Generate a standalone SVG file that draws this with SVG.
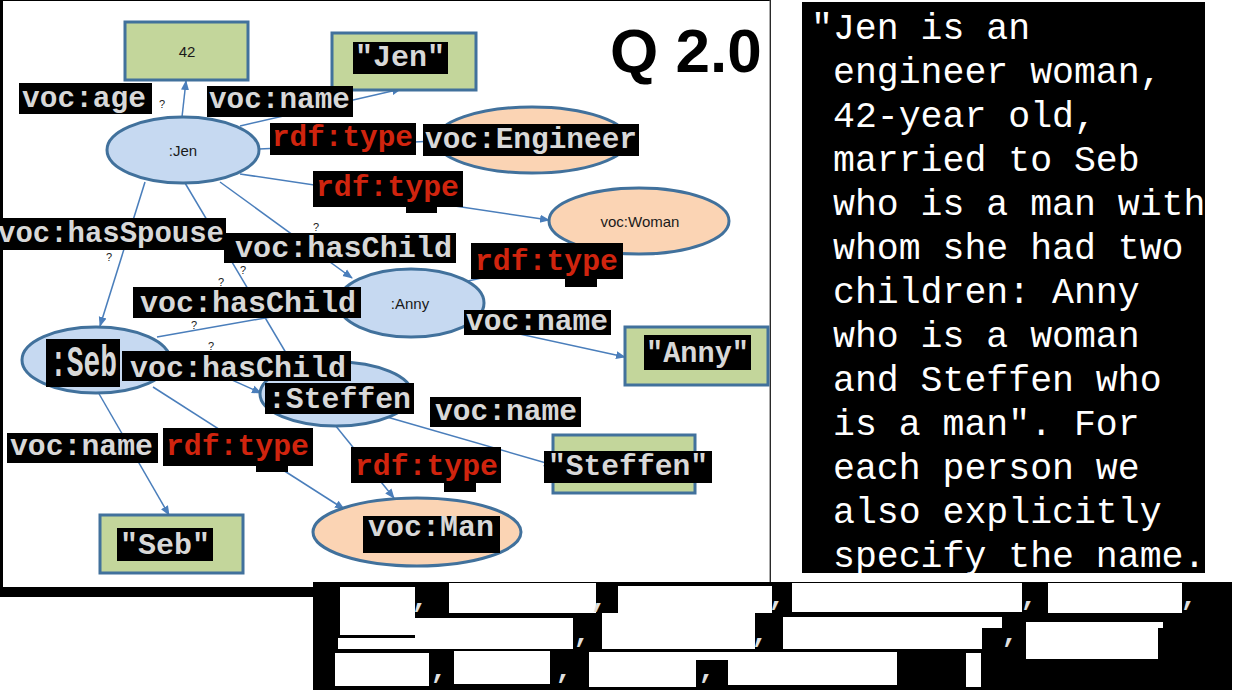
<svg xmlns="http://www.w3.org/2000/svg" width="1238" height="690" viewBox="0 0 1238 690">
<style>
.edge{stroke:#4a7ebb;stroke-width:1.5;fill:none}
.blue{fill:#c6d9f1;stroke:#41719c;stroke-width:3}
.peach{fill:#fbd4b4;stroke:#41719c;stroke-width:3}
.box{fill:#c3d69b;stroke:#41719c;stroke-width:3}
.small{font-family:"Liberation Sans",Arial,sans-serif;font-size:15px;fill:#1a1a1a}
.lbl{fill:#000}
.code{font-family:"Liberation Mono","Courier New",monospace;font-weight:bold;font-size:30px;fill:#d8d8d8}
.red{font-family:"Liberation Mono","Courier New",monospace;font-weight:bold;font-size:30px;fill:#d0240e}
.q{font-family:"Liberation Sans",Arial,sans-serif;font-size:11px;fill:#222}
.para{font-family:"Liberation Mono","Courier New",monospace;font-size:36.5px;fill:#ffffff}
.comma{font-family:"Liberation Mono","Courier New",monospace;font-weight:bold;font-size:28px;fill:#e0e0e0}
</style>
<defs>
<marker id="arr" viewBox="0 0 10 10" refX="9" refY="5" markerWidth="10" markerHeight="10" markerUnits="userSpaceOnUse" orient="auto">
<path d="M0,1 L10,5 L0,9 z" fill="#4a7ebb"/>
</marker>
</defs>
<rect x="0" y="0" width="1238" height="690" fill="#ffffff"/>
<g id="frame">
<rect x="0" y="0" width="771" height="597" fill="#000"/>
<rect x="3" y="1" width="767" height="586" fill="#fff"/>
<line x1="770" y1="0" x2="770" y2="587" stroke="#555" stroke-width="1"/>
</g>
<text x="610" y="72" font-family="'Liberation Sans',Arial,sans-serif" font-weight="bold" font-size="62" fill="#000">Q 2.0</text>
<g id="marks">
<text class="q" x="159" y="108">?</text>
<text class="q" x="313" y="231">?</text>
<text class="q" x="240" y="274">?</text>
<text class="q" x="218" y="286">?</text>
<text class="q" x="191" y="329">?</text>
<text class="q" x="208" y="350">?</text>
<text class="q" x="106" y="261">?</text>
</g>
<g id="connectors">
<line class="edge" x1="182" y1="117" x2="186" y2="81" marker-end="url(#arr)"/>
<line class="edge" x1="240" y1="126" x2="401" y2="89" marker-end="url(#arr)"/>
<line class="edge" x1="259" y1="149" x2="436" y2="141" marker-end="url(#arr)"/>
<line class="edge" x1="240" y1="174" x2="549" y2="220" marker-end="url(#arr)"/>
<line class="edge" x1="220" y1="182" x2="352" y2="278" marker-end="url(#arr)"/>
<line class="edge" x1="145" y1="182" x2="100" y2="326" marker-end="url(#arr)"/>
<line class="edge" x1="185" y1="183" x2="292" y2="363" marker-end="url(#arr)"/>
<line class="edge" x1="157" y1="337" x2="339" y2="305" marker-end="url(#arr)"/>
<line class="edge" x1="165" y1="350" x2="261" y2="393" marker-end="url(#arr)"/>
<line class="edge" x1="98" y1="392" x2="169" y2="515" marker-end="url(#arr)"/>
<line class="edge" x1="153" y1="387" x2="344" y2="509" marker-end="url(#arr)"/>
<line class="edge" x1="455" y1="320" x2="625" y2="357" marker-end="url(#arr)"/>
<line class="edge" x1="468" y1="281" x2="600" y2="252" marker-end="url(#arr)"/>
<line class="edge" x1="380" y1="415" x2="553" y2="465" marker-end="url(#arr)"/>
<line class="edge" x1="335" y1="425" x2="394" y2="498" marker-end="url(#arr)"/>
</g>
<g id="n-42">
<rect class="box" x="125" y="22" width="123" height="58"/>
<text class="small" x="187" y="57" text-anchor="middle">42</text>
</g>
<g id="n-jen-literal">
<rect class="box" x="332" y="33" width="144" height="57"/>
<rect class="lbl" x="353" y="42" width="95" height="32"/>
<text class="code" x="355" y="66" textLength="90" lengthAdjust="spacingAndGlyphs">"Jen"</text>
</g>
<g id="n-jen">
<ellipse class="blue" cx="183" cy="150" rx="76" ry="33"/>
<text class="small" x="183" y="156" text-anchor="middle">:Jen</text>
</g>
<g id="n-engineer">
<ellipse class="peach" cx="532" cy="140" rx="96" ry="33"/>
<rect class="lbl" x="423" y="124" width="216" height="32"/>
<text class="code" x="425" y="148" textLength="212" lengthAdjust="spacingAndGlyphs">voc:Engineer</text>
</g>
<g id="n-woman">
<ellipse class="peach" cx="639" cy="221" rx="90" ry="33"/>
<text class="small" x="640" y="227" text-anchor="middle">voc:Woman</text>
</g>
<g id="n-anny">
<ellipse class="blue" cx="411" cy="303" rx="73" ry="34"/>
<text class="small" x="410" y="309" text-anchor="middle">:Anny</text>
</g>
<g id="n-anny-literal">
<rect class="box" x="625" y="327" width="143" height="58"/>
<rect class="lbl" x="644" y="335" width="107" height="35"/>
<text class="code" x="646" y="362" textLength="103" lengthAdjust="spacingAndGlyphs">"Anny"</text>
</g>
<g id="n-seb">
<ellipse class="blue" cx="96" cy="360" rx="74" ry="33"/>
<rect class="lbl" x="46" y="339" width="74" height="48"/>
<text transform="translate(50,376) scale(0.635,1)" x="0" y="0" font-family="'Liberation Mono','Courier New',monospace" font-weight="bold" font-size="44" fill="#d8d8d8">:Seb</text>
</g>
<g id="n-steffen">
<ellipse class="blue" cx="336" cy="394" rx="76" ry="32"/>
<rect class="lbl" x="265" y="383" width="149" height="31"/>
<text class="code" x="268" y="408" textLength="143" lengthAdjust="spacingAndGlyphs">:Steffen</text>
</g>
<g id="n-steffen-literal">
<rect class="box" x="553" y="435" width="142" height="58"/>
<rect class="lbl" x="544" y="451" width="168" height="32"/>
<text class="code" x="548" y="475" textLength="160" lengthAdjust="spacingAndGlyphs">"Steffen"</text>
</g>
<g id="n-seb-literal">
<rect class="box" x="100" y="515" width="143" height="58"/>
<rect class="lbl" x="117" y="528" width="96" height="33"/>
<text class="code" x="120" y="554" textLength="90" lengthAdjust="spacingAndGlyphs">"Seb"</text>
</g>
<g id="n-man">
<ellipse class="peach" cx="417" cy="532" rx="104" ry="34"/>
<rect class="lbl" x="363" y="516" width="137" height="37"/>
<text class="code" x="368" y="536" textLength="126" lengthAdjust="spacingAndGlyphs">voc:Man</text>
</g>
<g id="edge-labels">
<rect class="lbl" x="19" y="83" width="133" height="31"/>
<text class="code" x="22" y="107" textLength="124" lengthAdjust="spacingAndGlyphs">voc:age</text>
<rect class="lbl" x="207" y="86" width="146" height="31"/>
<text class="code" x="209" y="108" textLength="141" lengthAdjust="spacingAndGlyphs">voc:name</text>
<rect class="lbl" x="270" y="123" width="146" height="32"/>
<text class="red" x="272" y="146" textLength="141" lengthAdjust="spacingAndGlyphs">rdf:type</text>
<rect class="lbl" x="313" y="171" width="150" height="36"/>
<rect class="lbl" x="406" y="200" width="31" height="13"/>
<text class="red" x="316" y="196" textLength="143" lengthAdjust="spacingAndGlyphs">rdf:type</text>
<rect class="lbl" x="0" y="218" width="226" height="32"/>
<text class="code" x="-2" y="242" textLength="226" lengthAdjust="spacingAndGlyphs">voc:hasSpouse</text>
<rect class="lbl" x="224" y="233" width="232" height="30"/>
<text class="code" x="235" y="257" textLength="217" lengthAdjust="spacingAndGlyphs">voc:hasChild</text>
<rect class="lbl" x="471" y="243" width="152" height="36"/>
<rect class="lbl" x="565" y="279" width="32" height="8"/>
<text class="red" x="475" y="270" textLength="143" lengthAdjust="spacingAndGlyphs">rdf:type</text>
<rect class="lbl" x="133" y="287" width="228" height="31"/>
<text class="code" x="140" y="312" textLength="216" lengthAdjust="spacingAndGlyphs">voc:hasChild</text>
<rect class="lbl" x="464" y="310" width="147" height="25"/>
<text class="code" x="466" y="330" textLength="142" lengthAdjust="spacingAndGlyphs">voc:name</text>
<rect class="lbl" x="122" y="351" width="229" height="30"/>
<text class="code" x="130" y="377" textLength="216" lengthAdjust="spacingAndGlyphs">voc:hasChild</text>
<rect class="lbl" x="430" y="397" width="151" height="30"/>
<text class="code" x="435" y="420" textLength="142" lengthAdjust="spacingAndGlyphs">voc:name</text>
<rect class="lbl" x="7" y="433" width="151" height="30"/>
<text class="code" x="10" y="455" textLength="143" lengthAdjust="spacingAndGlyphs">voc:name</text>
<rect class="lbl" x="163" y="428" width="150" height="38"/>
<rect class="lbl" x="256" y="466" width="32" height="6"/>
<text class="red" x="166" y="455" textLength="143" lengthAdjust="spacingAndGlyphs">rdf:type</text>
<rect class="lbl" x="351" y="447" width="150" height="36"/>
<rect class="lbl" x="444" y="483" width="32" height="9"/>
<text class="red" x="355" y="475" textLength="143" lengthAdjust="spacingAndGlyphs">rdf:type</text>
</g>
<g id="description">
<rect x="802" y="2" width="403" height="571" fill="#000"/>
<text class="para" x="811" y="39">"Jen is an</text>
<text class="para" x="833" y="83">engineer woman,</text>
<text class="para" x="833" y="127">42-year old,</text>
<text class="para" x="833" y="171">married to Seb</text>
<text class="para" x="833" y="215">who is a man with</text>
<text class="para" x="833" y="259">whom she had two</text>
<text class="para" x="833" y="303">children: Anny</text>
<text class="para" x="833" y="347">who is a woman</text>
<text class="para" x="833" y="391">and Steffen who</text>
<text class="para" x="833" y="435">is a man". For</text>
<text class="para" x="833" y="479">each person we</text>
<text class="para" x="833" y="523">also explicitly</text>
<text class="para" x="833" y="567">specify the name.</text>
</g>
<g id="answer-block">
<rect x="313" y="582" width="919" height="108" fill="#000"/>
<g fill="#fff">
<rect x="340" y="587" width="75" height="48"/>
<rect x="449" y="583" width="147" height="30"/>
<rect x="618" y="586" width="154" height="27"/>
<rect x="792" y="583" width="230" height="29"/>
<rect x="1048" y="583" width="134" height="30"/>
<rect x="338" y="638" width="77" height="11"/>
<rect x="415" y="618" width="158" height="31"/>
<rect x="602" y="613" width="153" height="36"/>
<rect x="783" y="617" width="219" height="11"/>
<rect x="783" y="628" width="199" height="21"/>
<rect x="1026" y="622" width="137" height="6"/>
<rect x="1026" y="628" width="132" height="31"/>
<rect x="335" y="653" width="94" height="33"/>
<rect x="454" y="651" width="96" height="33"/>
<rect x="589" y="652" width="107" height="35"/>
<rect x="696" y="652" width="32" height="8"/>
<rect x="728" y="652" width="169" height="33"/>
<rect x="966" y="653" width="15" height="34"/>
</g>
<g class="comma" text-anchor="middle">
<text x="420" y="607">,</text>
<text x="599" y="607">,</text>
<text x="777" y="605">,</text>
<text x="1029" y="605">,</text>
<text x="1189" y="605">,</text>
<text x="582" y="642">,</text>
<text x="760" y="642">,</text>
<text x="1010" y="642">,</text>
<text x="439" y="678">,</text>
<text x="564" y="678">,</text>
<text x="707" y="678">,</text>
</g>
</g>
</svg>
